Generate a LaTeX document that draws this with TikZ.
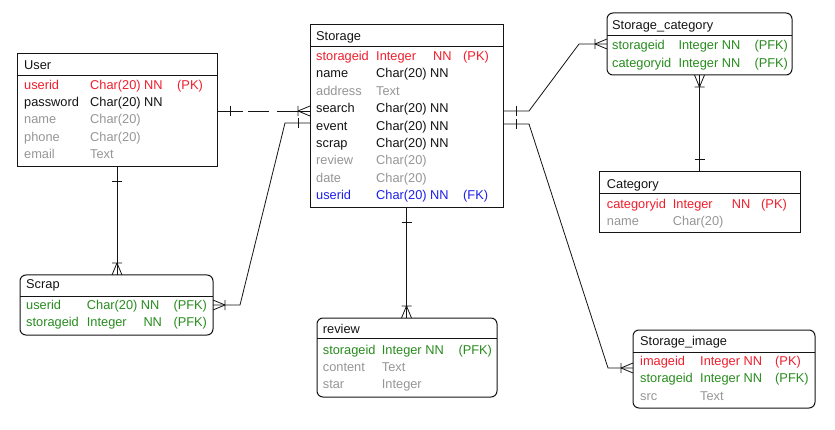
\documentclass[tikz,border=0pt]{standalone}
\usepackage{fontspec}
\setmainfont{Liberation Sans}
\usetikzlibrary{calc}
\definecolor{pkred}{RGB}{240,30,45}
\definecolor{pfkgreen}{RGB}{40,140,30}
\definecolor{nullgrey}{RGB}{150,150,150}
\definecolor{fkblue}{RGB}{30,30,235}
\definecolor{ink}{RGB}{20,20,20}
\tikzset{
 ebox/.style={draw=ink, line width=1pt, fill=white, inner sep=0pt, outer sep=0pt},
 roundbox/.style={rounded corners=6pt},
 hline/.style={draw=ink, line width=0.9pt},
 txt/.style={anchor=base west, inner sep=0pt, font=\fontsize{12.8}{15}\selectfont},
 conn/.style={draw=ink, line width=0.8pt},
}
\newcommand\entity[7]{%
  \node[ebox,#7,minimum width={#4pt-#2pt},minimum height={#5pt-#3pt}] (#1) at ({(#2+#4)/2},{(#3+#5)/2}) {};
  \draw[hline] (#1.west |- 0,#6) -- (#1.east |- 0,#6);}
\newcommand\tx[5]{\node[txt,text=#4] (#1) at (#2,#3) {#5};}
\newcommand\crowfoot[2]{\begin{scope}[shift={(#1)},rotate=#2]
 \draw[conn] (-12,0) -- (0,5) (-12,0) -- (0,-5) (-12,-5) -- (-12,5);
\end{scope}}
\newcommand\onebar[2]{\begin{scope}[shift={(#1)},rotate=#2]\draw[conn] (0,-5) -- (0,5);\end{scope}}
\begin{document}
\begin{tikzpicture}[x=1pt,y=-1pt]
\useasboundingbox (0,0) rectangle (835,430);
\fill[white] (0,0) rectangle (835,430);

% ---------- entities ----------
\entity{user}{17}{54}{217}{167}{75}{}
\entity{storage}{310}{25}{503}{208}{46}{}
\entity{storcat}{607}{13}{792}{75}{35}{roundbox}
\entity{category}{599}{172}{800}{233}{193}{}
\entity{scrap}{20}{275}{213}{335}{296}{roundbox}
\entity{review}{317}{318}{497}{397}{338}{roundbox}
\entity{storimg}{633}{330}{815}{408}{352}{roundbox}

% ---------- User ----------
\tx{uT}{24}{69.5}{ink}{User}
\tx{u1n}{24}{89.3}{pkred}{userid}
\tx{u1t}{90}{89.3}{pkred}{Char(20) NN}
\tx{u1k}{177}{89.3}{pkred}{(PK)}
\tx{u2n}{24}{106.6}{ink}{password}
\tx{u2t}{90}{106.6}{ink}{Char(20) NN}
\tx{u3n}{24}{123.9}{nullgrey}{name}
\tx{u3t}{90}{123.9}{nullgrey}{Char(20)}
\tx{u4n}{24}{141.2}{nullgrey}{phone}
\tx{u4t}{90}{141.2}{nullgrey}{Char(20)}
\tx{u5n}{24}{158.5}{nullgrey}{email}
\tx{u5t}{90}{158.5}{nullgrey}{Text}

% ---------- Storage ----------
\tx{sT}{316}{40.7}{ink}{Storage}
\tx{s1n}{316}{60.3}{pkred}{storageid}
\tx{s1t}{376}{60.3}{pkred}{Integer}
\tx{s1x}{433}{60.3}{pkred}{NN}
\tx{s1k}{463}{60.3}{pkred}{(PK)}
\tx{s2n}{316}{77.75}{ink}{name}
\tx{s2t}{376}{77.75}{ink}{Char(20) NN}
\tx{s3n}{316}{95.2}{nullgrey}{address}
\tx{s3t}{376}{95.2}{nullgrey}{Text}
\tx{s4n}{316}{112.65}{ink}{search}
\tx{s4t}{376}{112.65}{ink}{Char(20) NN}
\tx{s5n}{316}{130.1}{ink}{event}
\tx{s5t}{376}{130.1}{ink}{Char(20) NN}
\tx{s6n}{316}{147.55}{ink}{scrap}
\tx{s6t}{376}{147.55}{ink}{Char(20) NN}
\tx{s7n}{316}{165}{nullgrey}{review}
\tx{s7t}{376}{165}{nullgrey}{Char(20)}
\tx{s8n}{316}{182.45}{nullgrey}{date}
\tx{s8t}{376}{182.45}{nullgrey}{Char(20)}
\tx{s9n}{316}{199.9}{fkblue}{userid}
\tx{s9t}{376}{199.9}{fkblue}{Char(20) NN}
\tx{s9k}{463}{199.9}{fkblue}{(FK)}

% ---------- Storage_category ----------
\tx{cT}{612}{30}{ink}{Storage\_category}
\tx{c1n}{612}{50}{pfkgreen}{storageid}
\tx{c1t}{678.3}{50}{pfkgreen}{Integer NN}
\tx{c1k}{754.3}{50}{pfkgreen}{(PFK)}
\tx{c2n}{612}{67.3}{pfkgreen}{categoryid}
\tx{c2t}{678.3}{67.3}{pfkgreen}{Integer NN}
\tx{c2k}{754.3}{67.3}{pfkgreen}{(PFK)}

% ---------- Category ----------
\tx{gT}{606.7}{188.3}{ink}{Category}
\tx{g1n}{606.7}{208.3}{pkred}{categoryid}
\tx{g1t}{672.7}{208.3}{pkred}{Integer}
\tx{g1x}{731.7}{208.3}{pkred}{NN}
\tx{g1k}{761}{208.3}{pkred}{(PK)}
\tx{g2n}{606.7}{225.3}{nullgrey}{name}
\tx{g2t}{672.7}{225.3}{nullgrey}{Char(20)}

% ---------- Scrap ----------
\tx{pT}{26}{289}{ink}{Scrap}
\tx{p1n}{26}{309.3}{pfkgreen}{userid}
\tx{p1t}{86.7}{309.3}{pfkgreen}{Char(20) NN}
\tx{p1k}{173.3}{309.3}{pfkgreen}{(PFK)}
\tx{p2n}{26}{326.5}{pfkgreen}{storageid}
\tx{p2t}{86.7}{326.5}{pfkgreen}{Integer}
\tx{p2x}{143.3}{326.5}{pfkgreen}{NN}
\tx{p2k}{173.3}{326.5}{pfkgreen}{(PFK)}

% ---------- review ----------
\tx{rT}{322.7}{334}{ink}{review}
\tx{r1n}{322.7}{354.3}{pfkgreen}{storageid}
\tx{r1t}{381.7}{354.3}{pfkgreen}{Integer NN}
\tx{r1k}{458.3}{354.3}{pfkgreen}{(PFK)}
\tx{r2n}{322.7}{371.6}{nullgrey}{content}
\tx{r2t}{381.7}{371.6}{nullgrey}{Text}
\tx{r3n}{322.7}{388.9}{nullgrey}{star}
\tx{r3t}{381.7}{388.9}{nullgrey}{Integer}

% ---------- Storage_image ----------
\tx{iT}{640}{345.7}{ink}{Storage\_image}
\tx{i1n}{640}{365.7}{pkred}{imageid}
\tx{i1t}{700}{365.7}{pkred}{Integer NN}
\tx{i1k}{775}{365.7}{pkred}{(PK)}
\tx{i2n}{640}{382.9}{pfkgreen}{storageid}
\tx{i2t}{700}{382.9}{pfkgreen}{Integer NN}
\tx{i2k}{775}{382.9}{pfkgreen}{(PFK)}
\tx{i3n}{640}{400}{nullgrey}{src}
\tx{i3t}{700}{400}{nullgrey}{Text}

% ---------- connectors ----------
% User -- Storage (dashed)
\coordinate (usA) at (user.east |- 0,111);
\coordinate (usB) at (storage.west |- 0,111);
\coordinate (usBar) at (230,111);
\draw[conn, dash pattern=on 26pt off 5pt on 21pt off 8pt on 40pt] (usA) -- (usB);
\onebar{usBar}{0}
\crowfoot{usB}{0}

% Scrap -- Storage
\coordinate (ssA) at (scrap.east |- 0,305);
\coordinate (ssK1) at (240,305);
\coordinate (ssK2) at (285,123);
\coordinate (ssB) at (storage.west |- 0,123);
\coordinate (ssBar) at (298,123);
\draw[conn] (ssA) -- (ssK1) -- (ssK2) -- (ssB);
\crowfoot{ssA}{180}
\onebar{ssBar}{0}

% User -- Scrap
\coordinate (uxA) at (user.south);
\coordinate (uxB) at (scrap.north -| uxA);
\coordinate (uxBar) at (117,181);
\draw[conn] (uxA) -- (uxB);
\onebar{uxBar}{90}
\crowfoot{uxB}{-90}

% Storage -- review
\coordinate (srA) at (storage.south);
\coordinate (srB) at (review.north -| srA);
\coordinate (srBar) at (406.5,222);
\draw[conn] (srA) -- (srB);
\onebar{srBar}{90}
\crowfoot{srB}{-90}

% Storage -- Storage_category
\coordinate (scA) at (storage.east |- 0,111);
\coordinate (scK1) at (529,111);
\coordinate (scK2) at (579,44);
\coordinate (scB) at (storcat.west |- 0,44);
\coordinate (scBar) at (516,111);
\draw[conn] (scA) -- (scK1) -- (scK2) -- (scB);
\onebar{scBar}{0}
\crowfoot{scB}{0}

% Storage -- Storage_image
\coordinate (siA) at (storage.east |- 0,124);
\coordinate (siK1) at (529,124);
\coordinate (siK2) at (608,368);
\coordinate (siB) at (storimg.west |- 0,368);
\coordinate (siBar) at (516,124);
\draw[conn] (siA) -- (siK1) -- (siK2) -- (siB);
\onebar{siBar}{0}
\crowfoot{siB}{0}

% Storage_category -- Category
\coordinate (ccA) at (storcat.south);
\coordinate (ccB) at (category.north -| ccA);
\coordinate (ccBar) at (699.5,159);
\draw[conn] (ccA) -- (ccB);
\onebar{ccBar}{90}
\crowfoot{ccA}{90}
\end{tikzpicture}
\end{document}
